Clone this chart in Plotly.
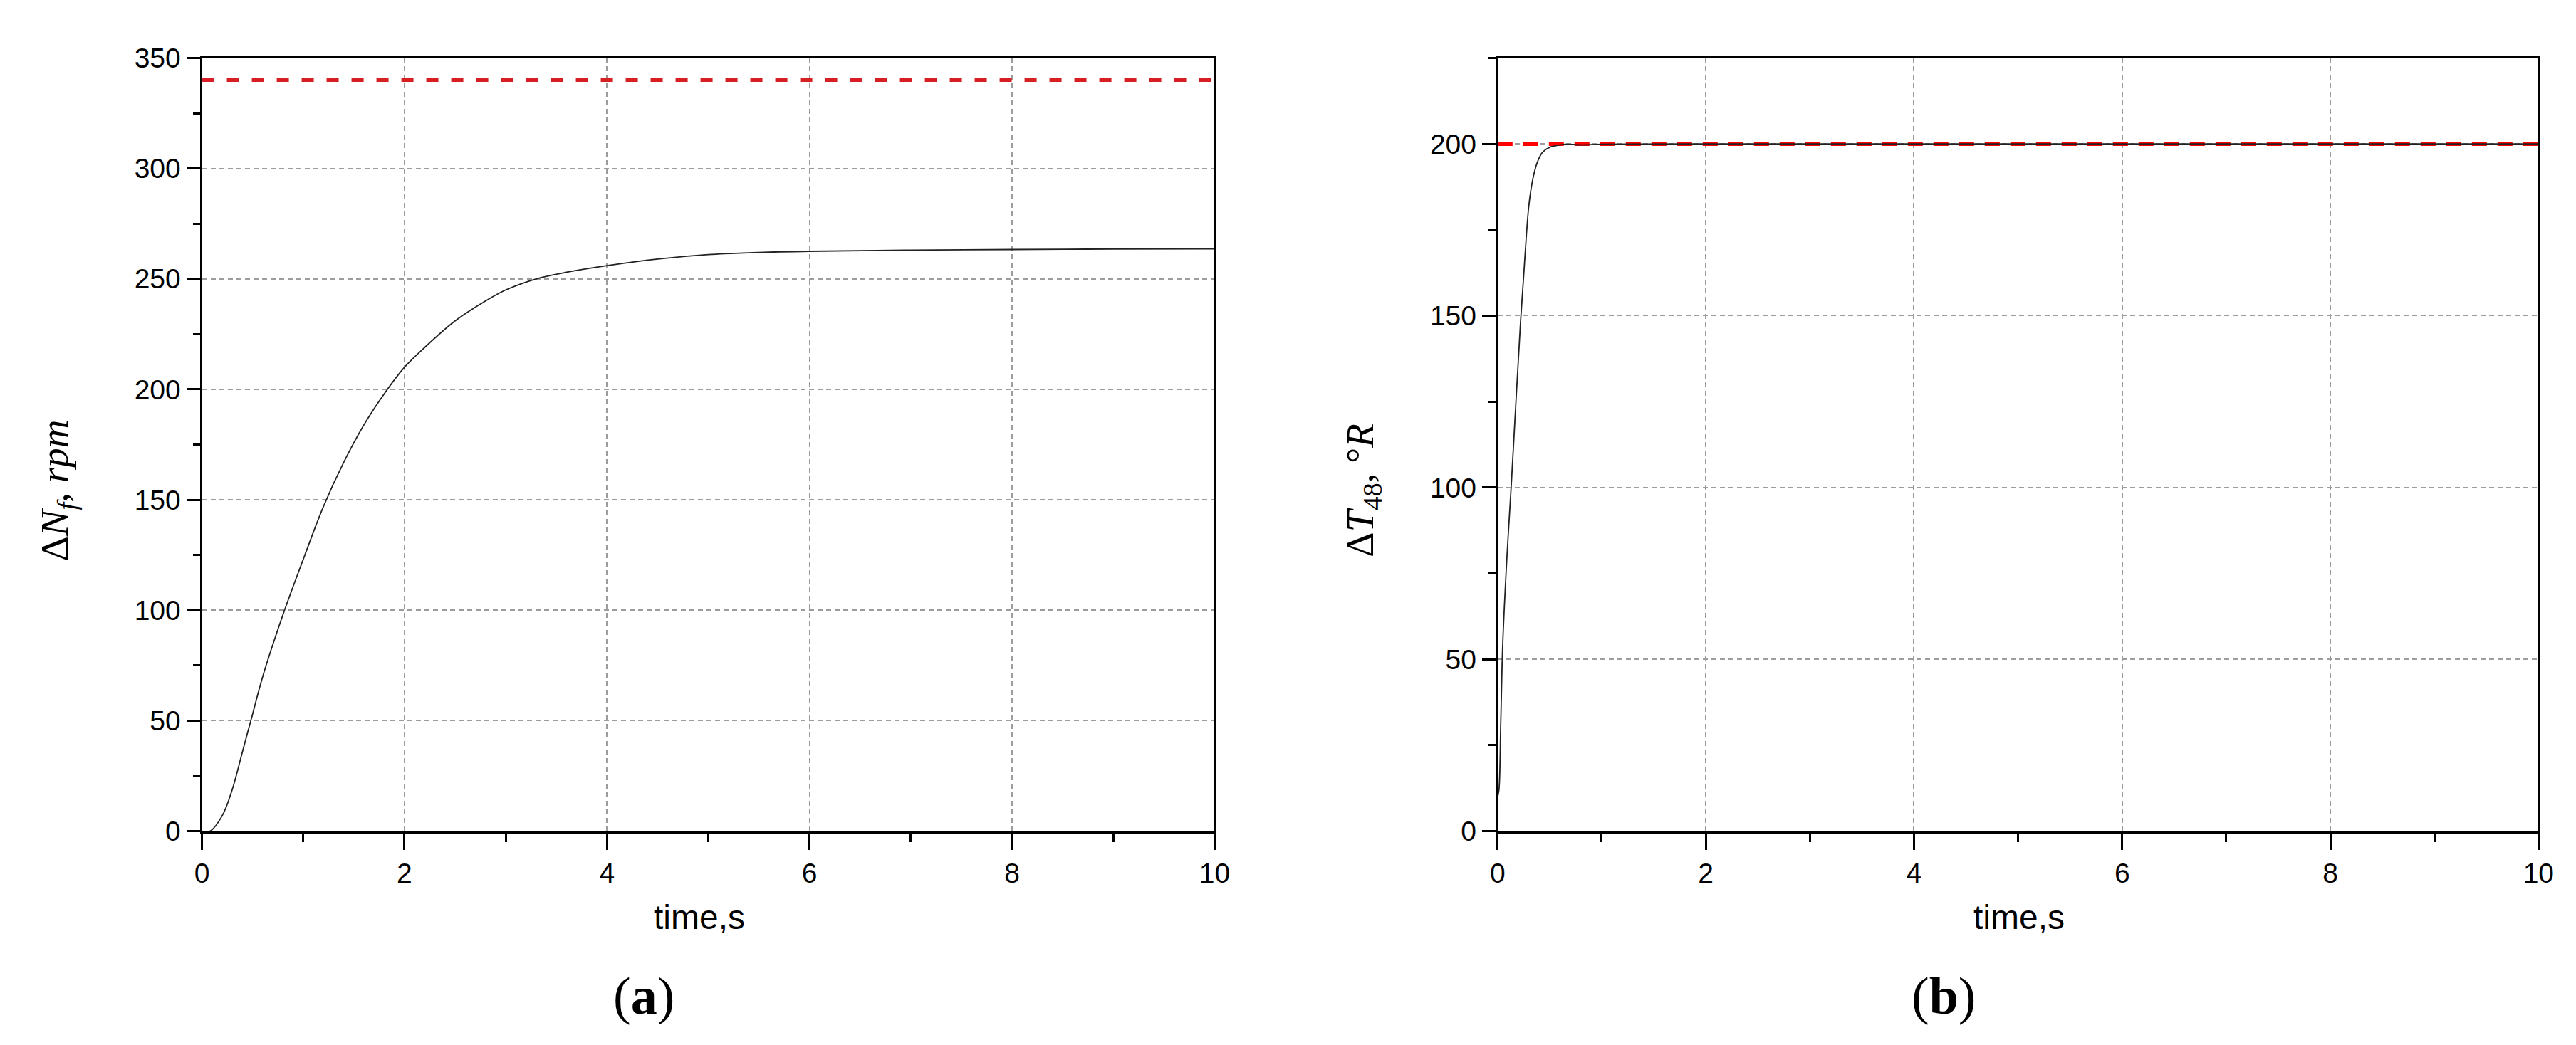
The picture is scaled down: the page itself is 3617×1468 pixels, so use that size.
import plotly.graph_objects as go

# (a) fan speed response, rpm
time_a = [0, 0.08, 0.2, 0.3, 0.4, 0.5, 0.6, 0.8, 1.0, 1.2, 1.4, 1.6, 1.8, 2.0, 2.2,
          2.5, 2.8, 3.0, 3.3, 3.6, 4.0, 4.5, 5.0, 5.5, 6.0, 7.0, 8.0, 9.0, 10.0]
dNf = [0, 0, 7, 19, 36, 53, 70, 98, 123, 147, 167, 184, 198, 210, 219,
       231, 240, 245, 250, 253, 256, 259, 261, 262, 262.5, 263, 263.3, 263.5, 263.6]
ref_a = 340

# (b) T48 response, deg R
time_b = [0, 0.013, 0.03, 0.05, 0.09, 0.13, 0.18, 0.22, 0.26, 0.3, 0.34, 0.38,
          0.43, 0.5, 0.55, 0.65, 0.8, 1.0, 2.0, 4.0, 6.0, 8.0, 10.0]
dT48 = [10, 12, 31, 55, 80, 100, 127, 148, 166, 182, 190, 194.5,
        197.5, 199, 199.4, 199.9, 199.7, 199.9, 200, 200, 200, 200, 200]
ref_b = 200

x_ticks = [0, 2, 4, 6, 8, 10]

W, H = 3617, 1468
def px(x):
    return x / W
def py(y):
    return 1 - y / H

tick_font = dict(family="Liberation Sans, Arial", size=39, color="black")
grid = dict(showgrid=True, gridcolor="#9c9c9c", gridwidth=2, griddash="7px,5px")

fig = go.Figure()

fig.add_trace(go.Scatter(x=[0, 10], y=[ref_a, ref_a], mode="lines",
                         line=dict(color="rgb(215,30,35)", width=5, dash="17px,18px"),
                         xaxis="x", yaxis="y"))
fig.add_trace(go.Scatter(x=time_a, y=dNf, mode="lines", line_shape="spline",
                         line=dict(color="#222222", width=1.8), xaxis="x", yaxis="y"))

fig.add_trace(go.Scatter(x=[0, 10], y=[ref_b, ref_b], mode="lines",
                         line=dict(color="rgb(255,0,0)", width=6, dash="21px,15px"),
                         xaxis="x2", yaxis="y2"))
fig.add_trace(go.Scatter(x=time_b, y=dT48, mode="lines", line_shape="spline",
                         line=dict(color="#222222", width=1.8), xaxis="x2", yaxis="y2"))

def xaxis_cfg(domain, anchor):
    return dict(domain=domain, anchor=anchor, range=[0, 10], tickmode="array", tickvals=x_ticks,
                ticks="outside", ticklen=23, tickwidth=3, tickcolor="black",
                minor=dict(tickmode="array", tickvals=[1, 3, 5, 7, 9], ticks="outside",
                           ticklen=12, tickwidth=3, tickcolor="black", showgrid=False),
                showline=True, linewidth=3, linecolor="black", mirror=True,
                zeroline=False, tickfont=tick_font, **grid)

def yaxis_cfg(anchor, rng, vals, minor_vals):
    return dict(domain=[py(1173), py(54)], anchor=anchor, range=rng,
                tickmode="array", tickvals=vals,
                ticks="outside", ticklen=19, tickwidth=3, tickcolor="black",
                minor=dict(tickmode="array", tickvals=minor_vals, ticks="outside",
                           ticklen=10, tickwidth=3, tickcolor="black", showgrid=False),
                showline=True, linewidth=3, linecolor="black", mirror=True,
                zeroline=False, tickfont=tick_font, **grid)

fig.update_layout(
    width=W, height=H,
    margin=dict(l=0, r=0, t=0, b=0),
    paper_bgcolor="white", plot_bgcolor="white",
    showlegend=False,
    xaxis=xaxis_cfg([px(267), px(1702)], "y"),
    yaxis=yaxis_cfg("x", [0, 350], [0, 50, 100, 150, 200, 250, 300, 350],
                    [25, 75, 125, 175, 225, 275, 325]),
    xaxis2=xaxis_cfg([px(2103), px(3578)], "y2"),
    yaxis2=yaxis_cfg("x2", [0, 225], [0, 50, 100, 150, 200],
                     [25, 75, 125, 175, 225]),
)

label_font = dict(family="Liberation Sans, Arial", size=48, color="black")
serif = dict(family="Liberation Serif, Times New Roman", size=55, color="black")
cap_font = dict(family="Liberation Serif, Times New Roman", size=74, color="black")

annos = [
    dict(x=px(972), y=py(1298), text="time,s", font=label_font),
    dict(x=px(2842), y=py(1298), text="time,s", font=label_font),
    dict(x=px(893), y=py(1411), text="(<b>a</b>)", font=cap_font),
    dict(x=px(2735), y=py(1411), text="(<b>b</b>)", font=cap_font),
    dict(x=px(62), y=py(680), text="Δ<i>N</i><sub><i>f</i></sub>, <i>rpm</i>",
         font=serif, textangle=-90),
    dict(x=px(1912), y=py(680), text="Δ<i>T</i><sub>48</sub>, °<i>R</i>",
         font=serif, textangle=-90),
]
for a in annos:
    a.update(xref="paper", yref="paper", showarrow=False, xanchor="center", yanchor="middle")
fig.update_layout(annotations=annos)

fig.write_html("out.html")
